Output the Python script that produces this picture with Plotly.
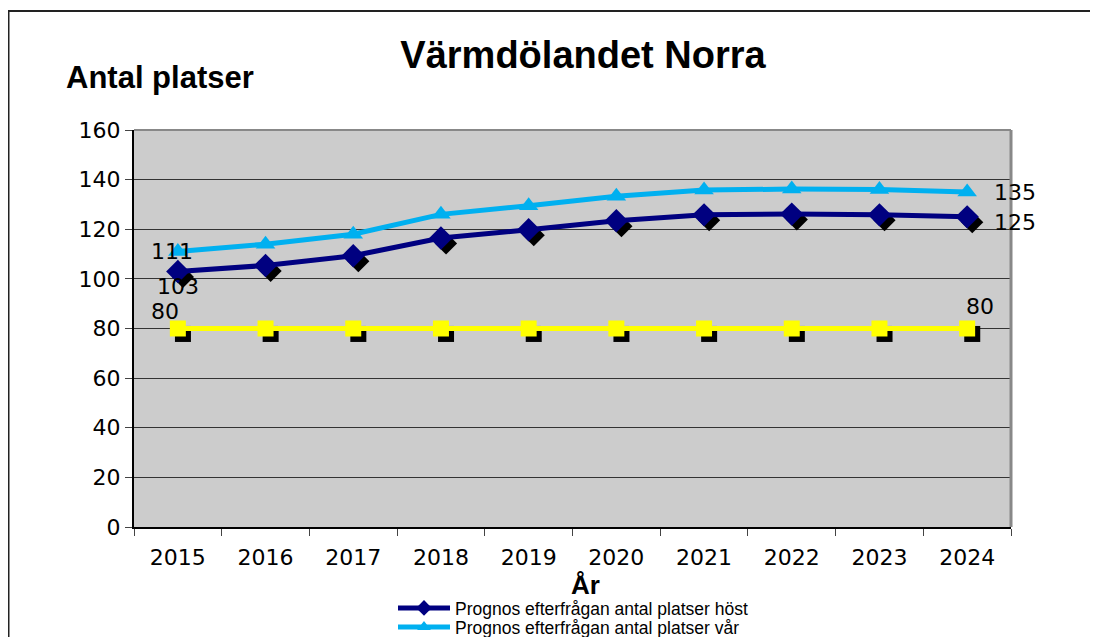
import plotly.graph_objects as go

years = ["2015", "2016", "2017", "2018", "2019", "2020", "2021", "2022", "2023", "2024"]
host = [103, 105.4, 109.3, 116.5, 119.8, 123.4, 125.8, 126.1, 125.8, 125]
var = [111, 114, 118, 126, 129.5, 133.3, 135.8, 136.2, 136, 135]
kapacitet = [80, 80, 80, 80, 80, 80, 80, 80, 80, 80]

y_ticks = [0, 20, 40, 60, 80, 100, 120, 140, 160]

NAVY = "#000080"
LIGHT = "#00B0F0"
YELLOW = "#FFFF00"

# page has an 8px body margin: figure pixel = page pixel - 8
OFF = 8
W, H = 1098 - OFF, 637 - OFF
PL, PT, PR, PB = 134 - OFF, 130 - OFF, 1011 - OFF, 527 - OFF
PW, PH = PR - PL, PB - PT

fig = go.Figure()

# shadows (drawn on slightly offset overlay axes x2/y2, beneath the data on x3/y3)
fig.add_trace(go.Scatter(x=years, y=kapacitet, mode="markers", xaxis="x2", yaxis="y2",
                         marker=dict(symbol="square", size=16, color="black"),
                         showlegend=False, hoverinfo="skip"))
fig.add_trace(go.Scatter(x=years, y=host, mode="markers", xaxis="x2", yaxis="y2",
                         marker=dict(symbol="diamond", size=17, color="black"),
                         showlegend=False, hoverinfo="skip"))

fig.add_trace(go.Scatter(x=years, y=kapacitet, mode="lines+markers", name="Kapacitet",
                         xaxis="x3", yaxis="y3",
                         line=dict(color=YELLOW, width=5),
                         marker=dict(symbol="square", size=16, color=YELLOW),
                         showlegend=False))
fig.add_trace(go.Scatter(x=years, y=host, mode="lines+markers",
                         name="Prognos efterfrågan antal platser höst",
                         xaxis="x3", yaxis="y3", legend="legend",
                         line=dict(color=NAVY, width=5),
                         marker=dict(symbol="diamond", size=18, color=NAVY)))
fig.add_trace(go.Scatter(x=years, y=var, mode="lines+markers",
                         name="Prognos efterfrågan antal platser vår",
                         xaxis="x3", yaxis="y3", legend="legend2",
                         line=dict(color=LIGHT, width=5),
                         marker=dict(symbol="triangle-up", size=17, color=LIGHT)))

lab_font = dict(family="DejaVu Sans", size=22, color="black")
first, last = 0, len(years) - 1
anns = [
    dict(x=first, y=var[first], text=str(round(var[first])), xshift=-6, yshift=0),
    dict(x=first, y=host[first], text=str(round(host[first])), xshift=0, yshift=-15),
    dict(x=first, y=kapacitet[first], text=str(kapacitet[first]), xshift=-13, yshift=17),
    dict(x=last, y=var[last], text=str(round(var[last])), xshift=48, yshift=0),
    dict(x=last, y=host[last], text=str(round(host[last])), xshift=48, yshift=-6),
    dict(x=last, y=kapacitet[last], text=str(kapacitet[last]), xshift=13, yshift=22),
]
for a in anns:
    a.update(xref="x", yref="y", showarrow=False, font=lab_font)
    fig.add_annotation(**a)

fig.add_annotation(text="<b>Antal platser</b>", xref="paper", yref="paper",
                   x=-(134 - 64) / PW, y=1 + (130 - 78) / PH, xanchor="left", yanchor="middle",
                   showarrow=False, font=dict(family="Liberation Sans", size=31, color="black"))
fig.add_annotation(text="<b>År</b>", xref="paper", yref="paper",
                   x=(585 - 134) / PW, y=-(585 - 527) / PH, xanchor="center", yanchor="middle",
                   showarrow=False, font=dict(family="Liberation Sans", size=26, color="black"))

# outer frame
fig.add_shape(type="rect", xref="paper", yref="paper",
              x0=-(PL - 0.5) / PW, x1=1.3, y0=-0.5, y1=1 + (130 - 11) / PH,
              line=dict(color="#222222", width=2), fillcolor="rgba(0,0,0,0)", layer="below")

cat_axis = dict(type="category", categoryorder="array", categoryarray=years, range=[-0.5, 9.5])

leg_common = dict(xref="container", yref="container", x=(393 - OFF) / W,
                  xanchor="left", yanchor="middle", bgcolor="rgba(0,0,0,0)",
                  font=dict(family="Liberation Sans", size=17.5, color="black"),
                  itemwidth=52, itemsizing="constant")

fig.update_layout(
    width=W, height=H,
    margin=dict(l=PL, r=W - PR, t=PT, b=H - PB, autoexpand=False),
    paper_bgcolor="white",
    plot_bgcolor="#CCCCCC",
    title=dict(text="<b>Värmdölandet Norra</b>", x=(583 - OFF) / W, xanchor="center",
               y=1 - (55 - OFF) / H, yanchor="middle", yref="container",
               font=dict(family="Liberation Sans", size=38, color="black")),
    xaxis=dict(**cat_axis,
               showgrid=False, showline=True, linecolor="black", linewidth=2,
               ticks="outside", ticklen=7, tickcolor="#444", tickson="boundaries",
               ticklabelstandoff=10,
               tickfont=dict(family="DejaVu Sans", size=22, color="black"),
               zeroline=False),
    yaxis=dict(range=[0, 160], tickvals=y_ticks, showgrid=True, gridcolor="#333333", gridwidth=1,
               showline=True, linecolor="black", linewidth=2, ticks="outside", ticklen=7,
               tickcolor="#444", tickfont=dict(family="DejaVu Sans", size=22, color="black"),
               zeroline=False),
    xaxis2=dict(type="category", categoryorder="array", categoryarray=years,
                range=[-0.5 - 0.058, 9.5 - 0.058], overlaying="x", visible=False),
    yaxis2=dict(range=[2.2, 162.2], overlaying="y", visible=False),
    xaxis3=dict(**cat_axis, overlaying="x", visible=False),
    yaxis3=dict(range=[0, 160], overlaying="y", visible=False),
    legend=dict(**leg_common, y=1 - (608 - OFF) / H),
    legend2=dict(**leg_common, y=1 - (627 - OFF) / H),
    showlegend=True,
)

# plot-area border on top/right (gray)
fig.add_shape(type="line", xref="paper", yref="paper", x0=0, x1=1, y0=1, y1=1,
              line=dict(color="#888888", width=2))
fig.add_shape(type="line", xref="paper", yref="paper", x0=1, x1=1, y0=0, y1=1,
              line=dict(color="#888888", width=3))

fig.write_html("out.html")
